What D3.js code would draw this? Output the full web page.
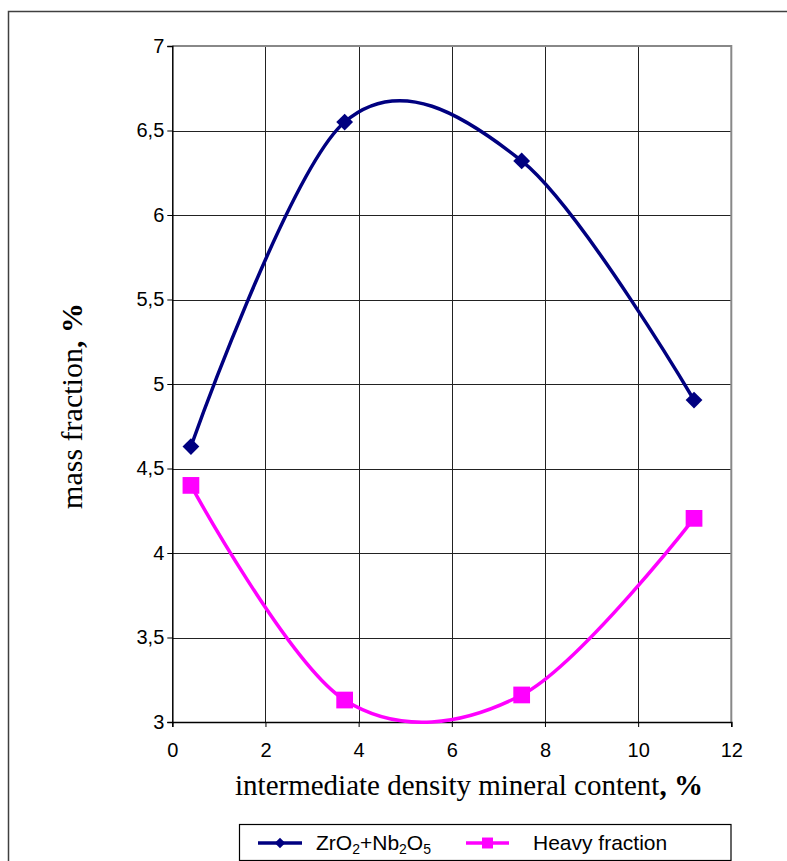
<!DOCTYPE html>
<html lang="en">
	<head>
		<meta charset="utf-8">
		<title>Mass fraction chart</title>
		<script type="text/javascript" src="https://cdn.jsdelivr.net/npm/d3@7"></script>
		<style type="text/css">
			body { margin: 0; background: #fff; }
			svg { display: block; }
		</style>
	</head>
	<body>
		<script type="text/javascript">

			// Data
			var xValues = [0.4, 3.7, 7.5, 11.2];                 // intermediate density mineral content, %
			var zrNb = [4.63, 6.55, 6.32, 4.905];                // ZrO2+Nb2O5
			var heavy = [4.40, 3.13, 3.16, 4.205];               // Heavy fraction
			var xTicks = [0, 2, 4, 6, 8, 10, 12];
			var yTicks = [3, 3.5, 4, 4.5, 5, 5.5, 6, 6.5, 7];

			var w = 787, h = 861;
			var plot = { left: 172.3, top: 46, right: 731.3, bottom: 722 };

			var svg = d3.select("body").append("svg")
				.attr("width", w)
				.attr("height", h);

			// outer frame (runs off the right and bottom edges)
			svg.append("rect")
				.attr("x", 8.5).attr("y", 11.5)
				.attr("width", 800).attr("height", 900)
				.attr("fill", "none")
				.attr("stroke", "#404040")
				.attr("stroke-width", 1.5);

			var x = d3.scaleLinear().domain([0, 12]).range([plot.left, plot.right]);
			var y = d3.scaleLinear().domain([3, 7]).range([plot.bottom, plot.top]);

			// gridlines
			svg.append("g").selectAll("line")
				.data(yTicks.slice(1, -1))
				.enter().append("line")
				.attr("x1", plot.left).attr("x2", plot.right)
				.attr("y1", function(d) { return Math.round(y(d)) + 0.5; })
				.attr("y2", function(d) { return Math.round(y(d)) + 0.5; })
				.attr("stroke", "#222").attr("stroke-width", 1);

			svg.append("g").selectAll("line")
				.data(xTicks.slice(1, -1))
				.enter().append("line")
				.attr("y1", plot.top).attr("y2", plot.bottom)
				.attr("x1", function(d) { return Math.round(x(d)) + 0.5; })
				.attr("x2", function(d) { return Math.round(x(d)) + 0.5; })
				.attr("stroke", "#222").attr("stroke-width", 1);

			// top and right border of plot area (grey)
			svg.append("path")
				.attr("d", "M" + plot.left + "," + plot.top + "H" + plot.right + "V" + plot.bottom)
				.attr("fill", "none")
				.attr("stroke", "#888")
				.attr("stroke-width", 2);

			// axes
			var xAxis = d3.axisBottom(x).tickValues(xTicks).tickSize(5).tickPadding(16)
				.tickFormat(function(d) { return d; });
			var yAxis = d3.axisLeft(y).tickValues(yTicks).tickSize(5).tickPadding(3)
				.tickFormat(function(d) { return String(d).replace(".", ","); });

			var gx = svg.append("g")
				.attr("transform", "translate(0," + plot.bottom + ")")
				.call(xAxis);
			var gy = svg.append("g")
				.attr("transform", "translate(" + plot.left + ",0)")
				.call(yAxis);

			[gx, gy].forEach(function(g) {
				g.select(".domain").attr("stroke", "#000").attr("stroke-width", 1.5);
				g.selectAll(".tick line").attr("stroke", "#000");
				g.selectAll(".tick text")
					.attr("fill", "#000")
					.style("font-family", "'Liberation Sans', Arial, sans-serif")
					.style("font-size", "20px");
			});

			// smoothed series
			var line = d3.line()
				.x(function(d) { return x(d[0]); })
				.y(function(d) { return y(d[1]); })
				.curve(d3.curveCardinal.tension(0));

			var seriesA = d3.zip(xValues, zrNb);
			var seriesB = d3.zip(xValues, heavy);

			svg.append("path")
				.datum(seriesA)
				.attr("d", line)
				.attr("fill", "none")
				.attr("stroke", "#000080")
				.attr("stroke-width", 3.5);

			svg.append("path")
				.datum(seriesB)
				.attr("d", line)
				.attr("fill", "none")
				.attr("stroke", "#ff00ff")
				.attr("stroke-width", 3.5);

			var diamond = d3.symbol().type(d3.symbolDiamond2).size(180);
			var square = d3.symbol().type(d3.symbolSquare).size(280);

			svg.append("g").selectAll("path")
				.data(seriesA)
				.enter().append("path")
				.attr("d", diamond)
				.attr("transform", function(d) { return "translate(" + x(d[0]) + "," + y(d[1]) + ")"; })
				.attr("fill", "#000080");

			svg.append("g").selectAll("path")
				.data(seriesB)
				.enter().append("path")
				.attr("d", square)
				.attr("transform", function(d) { return "translate(" + x(d[0]) + "," + y(d[1]) + ")"; })
				.attr("fill", "#ff00ff");

			// axis titles
			var xTitle = svg.append("text")
				.attr("x", 469).attr("y", 795)
				.attr("text-anchor", "middle")
				.style("font-family", "'Liberation Serif', 'Times New Roman', serif")
				.style("font-size", "29px");
			xTitle.append("tspan").text("intermediate density mineral content");
			xTitle.append("tspan").style("font-weight", "bold").text(", %");

			var yTitle = svg.append("text")
				.attr("transform", "translate(82,406) rotate(-90)")
				.attr("text-anchor", "middle")
				.style("font-family", "'Liberation Serif', 'Times New Roman', serif")
				.style("font-size", "30px");
			yTitle.append("tspan").text("mass fraction");
			yTitle.append("tspan").style("font-weight", "bold").text(", %");

			// legend
			var legend = svg.append("g");
			legend.append("rect")
				.attr("x", 239.5).attr("y", 824.5)
				.attr("width", 491.5).attr("height", 36)
				.attr("fill", "#fff")
				.attr("stroke", "#000")
				.attr("stroke-width", 1.2);

			legend.append("line")
				.attr("x1", 258).attr("x2", 302).attr("y1", 843).attr("y2", 843)
				.attr("stroke", "#000080").attr("stroke-width", 3.5);
			legend.append("path")
				.attr("d", d3.symbol().type(d3.symbolDiamond2).size(70))
				.attr("transform", "translate(280,843)")
				.attr("fill", "#000080");

			legend.append("line")
				.attr("x1", 466).attr("x2", 509).attr("y1", 843).attr("y2", 843)
				.attr("stroke", "#ff00ff").attr("stroke-width", 3.5);
			legend.append("path")
				.attr("d", d3.symbol().type(d3.symbolSquare).size(120))
				.attr("transform", "translate(487.5,843)")
				.attr("fill", "#ff00ff");

			var leg1 = legend.append("text")
				.attr("x", 316).attr("y", 850)
				.style("font-family", "'Liberation Sans', Arial, sans-serif")
				.style("font-size", "21px");
			leg1.append("tspan").text("ZrO");
			leg1.append("tspan").attr("dy", 4).style("font-size", "14px").text("2");
			leg1.append("tspan").attr("dy", -4).text("+Nb");
			leg1.append("tspan").attr("dy", 4).style("font-size", "14px").text("2");
			leg1.append("tspan").attr("dy", -4).text("O");
			leg1.append("tspan").attr("dy", 4).style("font-size", "14px").text("5");

			legend.append("text")
				.attr("x", 533).attr("y", 850)
				.style("font-family", "'Liberation Sans', Arial, sans-serif")
				.style("font-size", "21px")
				.text("Heavy fraction");

		</script>
	</body>
</html>
